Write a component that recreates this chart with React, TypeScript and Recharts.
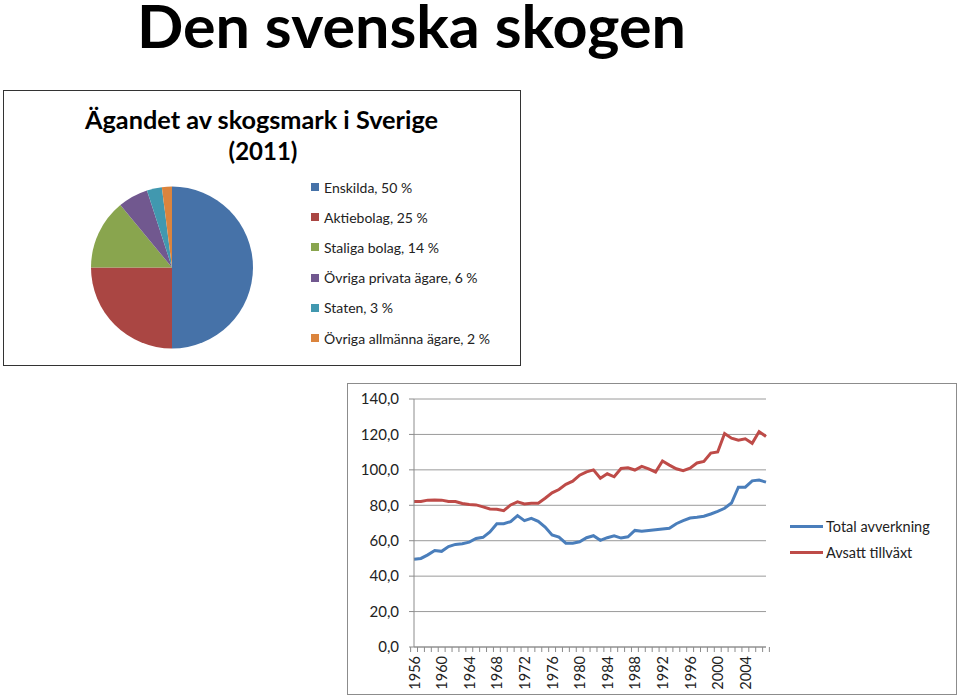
import React from 'react';
import { PieChart, Pie, Cell, LineChart, Line, XAxis, YAxis, CartesianGrid } from 'recharts';

const ownerNames = ['Enskilda', 'Aktiebolag', 'Staliga bolag', 'Övriga privata ägare', 'Staten', 'Övriga allmänna ägare'];
const ownerShares = [50, 25, 14, 6, 3, 2];
const ownerColors = ['#4672A8', '#AA4643', '#89A54E', '#71588F', '#4198AF', '#DB843D'];

const years = [
  '1956', '1957', '1958', '1959', '1960', '1961', '1962', '1963', '1964', '1965',
  '1966', '1967', '1968', '1969', '1970', '1971', '1972', '1973', '1974', '1975',
  '1976', '1977', '1978', '1979', '1980', '1981', '1982', '1983', '1984', '1985',
  '1986', '1987', '1988', '1989', '1990', '1991', '1992', '1993', '1994', '1995',
  '1996', '1997', '1998', '1999', '2000', '2001', '2002', '2003', '2004', '2005',
  '2006', '2007',
];
const totalAvverkning = [
  49.6, 50.0, 52.0, 54.5, 54.0, 56.7, 57.9, 58.3, 59.2, 61.3,
  61.9, 64.9, 69.6, 69.6, 70.8, 74.2, 71.3, 72.6, 70.9, 67.7,
  63.2, 62.0, 58.6, 58.6, 59.4, 61.7, 62.8, 60.2, 61.7, 62.8,
  61.5, 62.2, 65.8, 65.3, 65.8, 66.2, 66.6, 67.0, 69.6, 71.3,
  72.8, 73.2, 73.8, 75.1, 76.6, 78.3, 81.3, 90.2, 90.2, 93.8,
  94.2, 93.1,
];
const avsattTillvaxt = [
  82.1, 82.1, 82.9, 83.0, 82.9, 82.1, 82.1, 81.0, 80.4, 80.2,
  79.1, 77.9, 77.8, 77.0, 80.2, 81.9, 80.8, 81.2, 81.2, 84.0,
  87.0, 88.9, 91.8, 93.6, 97.0, 98.9, 100.0, 95.3, 97.8, 96.1,
  100.8, 101.2, 99.9, 102.0, 100.6, 98.8, 105.0, 102.7, 100.6, 99.5,
  101.0, 103.9, 104.8, 109.5, 110.1, 120.5, 117.9, 116.7, 117.5, 115.0,
  121.6, 118.8,
];
const yTicks = [0, 20, 40, 60, 80, 100, 120, 140];
const seriesNames = ['Total avverkning', 'Avsatt tillväxt'];
const seriesColors = ['#4A7EBB', '#BE4B48'];

const pieData = ownerNames.map((name, i) => ({ name, value: ownerShares[i] }));
const lineData = years.map((year, i) => ({ year, total: totalAvverkning[i], tillvaxt: avsattTillvaxt[i] }));

const FONT = 'Lato, "Open Sans", sans-serif';

const PLOT_WIDTH = 351.5;

const XTick = (props: any) => {
  const { x, y, payload, index } = props;
  const half = PLOT_WIDTH / years.length / 2;
  const showLabel = index % 4 === 0;
  return (
    <g>
      <line x1={x - half} x2={x - half} y1={y - 8} y2={y - 3} stroke="#8c8c8c" strokeWidth={1} />
      {index === years.length - 1 && (
        <line x1={x + half} x2={x + half} y1={y - 8} y2={y - 3} stroke="#8c8c8c" strokeWidth={1} />
      )}
      {showLabel && (
        <text
          x={0}
          y={0}
          transform={`translate(${x + 5.5},${y + 1}) rotate(-90)`}
          textAnchor="end"
          fontSize={14.5}
          fontFamily={FONT}
          fill="#222"
        >
          {payload.value}
        </text>
      )}
    </g>
  );
};

export default function App() {
  return (
    <div style={{ position: 'absolute', left: 0, top: 0, width: 959, height: 697, background: '#fff', overflow: 'hidden' }}>
      <svg width={959} height={80} style={{ position: 'absolute', left: 0, top: 0 }}>
        <text x={137} y={48} fontFamily={FONT} fontWeight={700} fontSize={60} fill="#000" textLength={549} lengthAdjust="spacingAndGlyphs">
          Den svenska skogen
        </text>
      </svg>

      <div style={{ position: 'absolute', left: 3, top: 90, width: 516, height: 274, border: '1.5px solid #333', background: '#fff' }}>
        <svg width={516} height={80} style={{ position: 'absolute', left: 0, top: 0 }}>
          <text x={81} y={38} fontFamily={FONT} fontWeight={700} fontSize={24} fill="#000" textLength={353} lengthAdjust="spacingAndGlyphs">
            Ägandet av skogsmark i Sverige
          </text>
          <text x={259} y={69} textAnchor="middle" fontFamily={FONT} fontWeight={700} fontSize={24} fill="#000">
            (2011)
          </text>
        </svg>
        <PieChart width={516} height={274} margin={{ top: 0, right: 0, bottom: 0, left: 0 }} style={{ position: 'absolute', left: 0, top: 0 }}>
          <Pie
            data={pieData}
            dataKey="value"
            nameKey="name"
            cx={168}
            cy={176.5}
            outerRadius={81}
            startAngle={90}
            endAngle={-270}
            stroke="none"
            isAnimationActive={false}
          >
            {pieData.map((d, i) => (
              <Cell key={d.name} fill={ownerColors[i]} />
            ))}
          </Pie>
        </PieChart>
        <div style={{ position: 'absolute', left: 307, top: 81, fontFamily: FONT, fontSize: 14, color: '#222' }}>
          {ownerNames.map((name, i) => (
            <div key={name} style={{ display: 'flex', alignItems: 'center', height: 30.2, whiteSpace: 'nowrap' }}>
              <span style={{ display: 'inline-block', width: 8, height: 8, background: ownerColors[i], marginRight: 5 }} />
              <span>{`${name}, ${ownerShares[i]} %`}</span>
            </div>
          ))}
        </div>
      </div>

      <div style={{ position: 'absolute', left: 347, top: 383, width: 608, height: 310, border: '1.5px solid #8c8c8c', background: '#fff' }}>
        <LineChart
          width={608}
          height={310}
          data={lineData}
          margin={{ top: 15, right: 190, bottom: 0, left: 0 }}
        >
          <CartesianGrid vertical={false} stroke="#9a9a9a" strokeWidth={1} />
          <XAxis
            dataKey="year"
            interval={0}
            tickLine={false}
            tick={<XTick />}
            height={47}
            stroke="#8c8c8c"
          />
          <YAxis
            domain={[0, 140]}
            ticks={yTicks}
            width={66}
            tickSize={5}
            tickMargin={10}
            stroke="#8c8c8c"
            tickFormatter={(v: number) => v.toFixed(1).replace('.', ',')}
            tick={{ fontSize: 15, fontFamily: FONT, fill: '#222' }}
          />
          <Line type="linear" dataKey="total" name={seriesNames[0]} stroke={seriesColors[0]} strokeWidth={3} dot={false} isAnimationActive={false} />
          <Line type="linear" dataKey="tillvaxt" name={seriesNames[1]} stroke={seriesColors[1]} strokeWidth={3} dot={false} isAnimationActive={false} />
        </LineChart>
        <div style={{ position: 'absolute', left: 442, top: 129, fontFamily: FONT, fontSize: 14.5, color: '#222' }}>
          {seriesNames.map((name, i) => (
            <div key={name} style={{ display: 'flex', alignItems: 'center', height: 26, whiteSpace: 'nowrap' }}>
              <span style={{ display: 'inline-block', width: 33, height: 3, background: seriesColors[i], marginRight: 3 }} />
              <span>{name}</span>
            </div>
          ))}
        </div>
      </div>
    </div>
  );
}
